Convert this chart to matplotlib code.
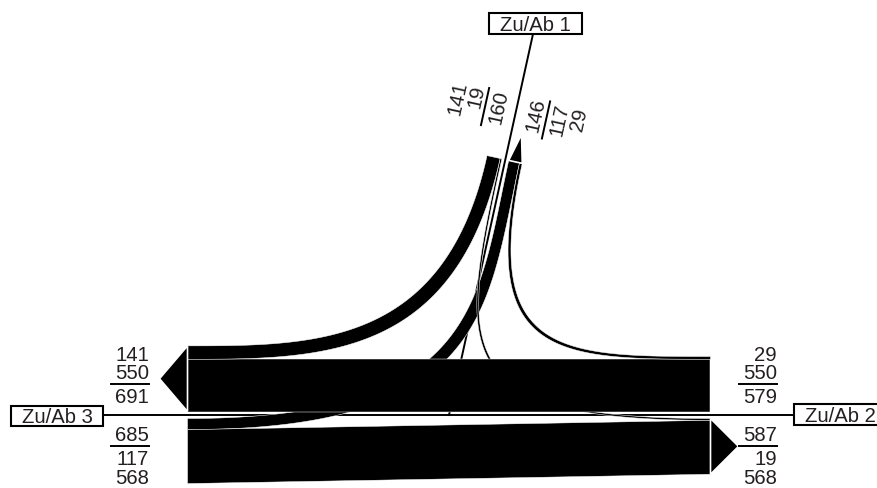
import numpy as np
import matplotlib.pyplot as plt
from matplotlib.patches import Polygon, Rectangle

plt.rcParams['font.family'] = ['Liberation Sans', 'DejaVu Sans']

# data: turning movements (vehicles) between the three arms
arm_names = ['Zu/Ab 1', 'Zu/Ab 2', 'Zu/Ab 3']
flow_from = [1, 1, 2, 2, 3, 3]
flow_to = [3, 2, 3, 1, 1, 2]
flow_veh = [141, 19, 550, 29, 117, 568]

# layout in pixels (y pointing down)
W, H = 878, 488
CENTER = np.array([449.0, 415.0])
ARM_DIR = {1: np.array([0.2153, -0.9765]), 2: np.array([1.0, 0.0]), 3: np.array([-1.0, 0.0])}
R_END = 261.5      # ribbons stop here
GAP = 3.5          # space between axis line and ribbon
SCALE = 0.095      # px per vehicle
ARROW_LEN = 28
BOXES = {1: (489, 13, 93, 21), 2: (794, 404, 92, 21), 3: (11, 406, 92, 20)}
LABEL_SPAN = {1: (290, 328), 2: (290, 328), 3: (300, 338)}
LINE_OFF = [19, 31.2, 43, 61.5]   # total, rule, first, second
# bezier control fractions (origin end, destination end) for turning movements
CTRL = {(1, 3): (1.0, 0.5), (2, 1): (0.65, 1.0), (1, 2): (0.75, 0.98), (3, 1): (1.1, 0.55)}
DRAW_ORDER = [(3, 1), (1, 2), (2, 3), (3, 2), (1, 3), (2, 1)]
TXT = '#231f20'
FS = 14.6
CAP = 0.716 * FS * 100 / 72


def n_in(a):
    d = ARM_DIR[a]
    return np.array([d[1], -d[0]])


def turn(a, b):
    v = -ARM_DIR[a]
    w = ARM_DIR[b]
    return v[0] * w[1] - v[1] * w[0]


def arm_pt(a, dist, lat, side):
    n = n_in(a) if side == 'in' else -n_in(a)
    return CENTER + dist * ARM_DIR[a] + n * lat


def bezier_edge(A, va, B, vb, fa, fb):
    M = np.column_stack([va, vb])
    if abs(np.linalg.det(M)) < 1e-6:
        # straight movement, no curve needed
        return np.array([A, B])
    t, u = np.linalg.solve(M, B - A)
    P1 = A + fa * t * va
    P2 = B - fb * u * vb
    tt = np.linspace(0, 1, 80)[:, None]
    return (1 - tt)**3 * A + 3 * (1 - tt)**2 * tt * P1 + 3 * (1 - tt) * tt**2 * P2 + tt**3 * B


idx = range(len(flow_veh))
arms = [1, 2, 3]
lanes_in = {a: sorted([i for i in idx if flow_from[i] == a], key=lambda i: turn(flow_from[i], flow_to[i])) for a in arms}
lanes_out = {a: sorted([i for i in idx if flow_to[i] == a], key=lambda i: turn(flow_from[i], flow_to[i])) for a in arms}

# lateral offsets of every movement at both ends
off_o, off_d = {}, {}
for a in arms:
    c = GAP
    for i in lanes_in[a]:
        off_o[i] = (c, c + flow_veh[i] * SCALE)
        c += flow_veh[i] * SCALE
    c = GAP
    for i in lanes_out[a]:
        off_d[i] = (c, c + flow_veh[i] * SCALE)
        c += flow_veh[i] * SCALE

fig = plt.figure(figsize=(W / 100, H / 100), dpi=100)
ax = fig.add_axes([0, 0, 1, 1])
ax.set_xlim(0, W)
ax.set_ylim(H, 0)
ax.axis('off')

# axis lines
ax.plot([BOXES[3][0] + BOXES[3][2], BOXES[2][0]], [CENTER[1], CENTER[1]], color='black', lw=1.4, zorder=1)
p_top = CENTER + 390 * ARM_DIR[1]
ax.plot([CENTER[0], p_top[0]], [CENTER[1], p_top[1]], color='black', lw=1.4, zorder=1)

# ribbons
for k, (fa_, tb_) in enumerate(DRAW_ORDER):
    i = [j for j in idx if flow_from[j] == fa_ and flow_to[j] == tb_][0]
    a, b = flow_from[i], flow_to[i]
    fa, fb = CTRL.get((a, b), (1.0, 1.0))
    va, vb = -ARM_DIR[a], ARM_DIR[b]
    edges = []
    for e in range(2):
        A = arm_pt(a, R_END, off_o[i][e], 'in')
        B = arm_pt(b, R_END, off_d[i][e], 'out')
        edges.append(bezier_edge(A, va, B, vb, fa, fb))
    poly = np.vstack([edges[0], edges[1][::-1]])
    ax.add_patch(Polygon(poly, closed=True, facecolor='black', edgecolor='white', lw=0.35, zorder=2 + k))

# arrowheads on the leaving ribbons
for a in arms:
    w = sum(flow_veh[i] for i in lanes_out[a]) * SCALE
    p1 = arm_pt(a, R_END, GAP, 'out')
    p2 = arm_pt(a, R_END, GAP + w, 'out')
    tip = arm_pt(a, R_END + ARROW_LEN, GAP + w / 2, 'out')
    ax.add_patch(Polygon([p1, tip, p2], closed=True, facecolor='black', edgecolor='white', lw=1.2, zorder=10))

# volume labels
for a in arms:
    d = ARM_DIR[a]
    tdir = d if d[0] >= 0 else -d
    up = np.array([tdir[1], -tdir[0]])
    rot = np.degrees(np.arctan2(-tdir[1], tdir[0]))
    near, far = LABEL_SPAN[a]
    d_right = far if d[0] >= 0 else near
    for side, lanes in (('in', lanes_in[a]), ('out', lanes_out[a])):
        vals = [sum(flow_veh[i] for i in lanes)] + [flow_veh[i] for i in lanes]
        offs = [LINE_OFF[0], LINE_OFF[2], LINE_OFF[3]]
        for v, o in zip(vals, offs):
            p = arm_pt(a, d_right, o, side) - up * CAP / 2
            ax.text(p[0], p[1], str(v), rotation=rot, rotation_mode='anchor',
                    ha='right', va='baseline', fontsize=FS, color=TXT, zorder=12)
        r1 = arm_pt(a, near, LINE_OFF[1], side)
        r2 = arm_pt(a, far, LINE_OFF[1], side)
        ax.plot([r1[0], r2[0]], [r1[1], r2[1]], color='black', lw=1.4, zorder=12)

# arm boxes
for a in arms:
    x, y, w, h = BOXES[a]
    ax.add_patch(Rectangle((x, y), w, h, facecolor='white', edgecolor='black', lw=1.5, zorder=15))
    ax.text(x + w / 2, y + h / 2 + CAP / 2, arm_names[a - 1], ha='center', va='baseline',
            fontsize=FS, color=TXT, zorder=16)

fig.savefig('out.png', dpi=100)
